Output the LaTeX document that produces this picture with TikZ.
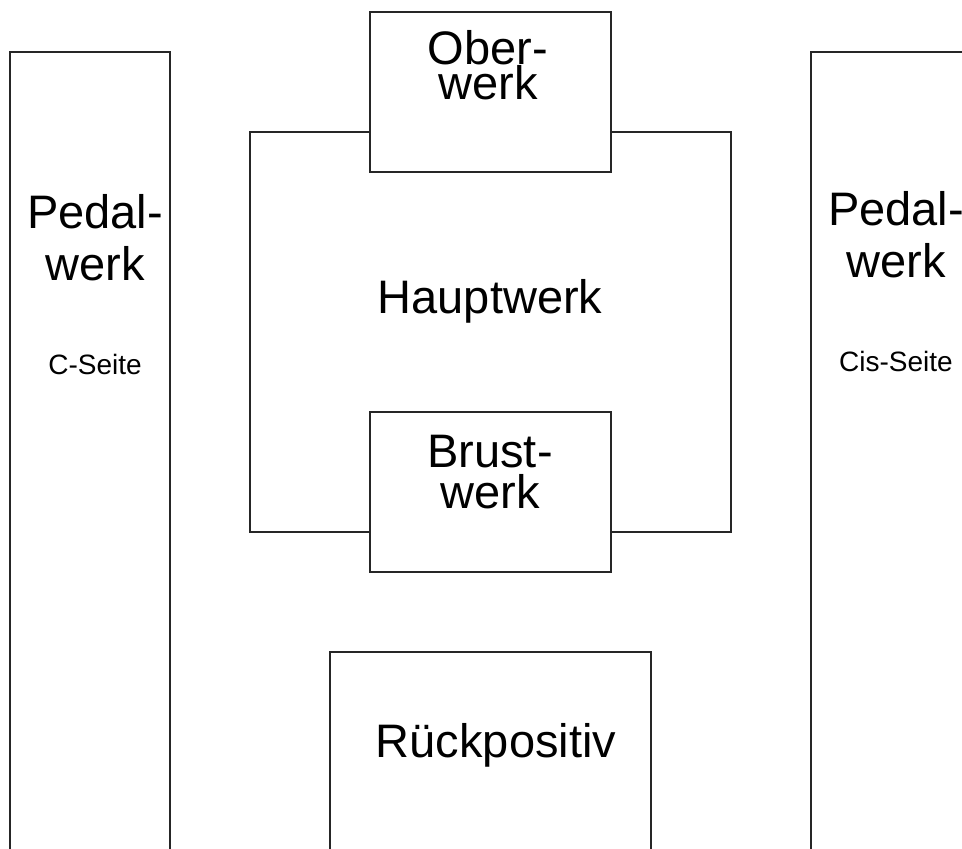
\documentclass[tikz,border=0pt]{standalone}
\usepackage{fontspec}
\setmainfont{Liberation Sans}

\begin{document}
\begin{tikzpicture}[x=1pt,y=-1pt,
    werkbox/.style={draw=black!85, line width=1.6pt, fill=white, inner sep=0pt},
    bigtext/.style={font=\fontsize{47}{52}\selectfont, anchor=base, align=center, inner sep=0pt},
    smalltext/.style={font=\fontsize{28}{32}\selectfont, anchor=base, inner sep=0pt}]
        % Frame of the picture
        \useasboundingbox (0,0) rectangle (962,849);
        \clip (0,0) rectangle (962,849);

        % Pedal towers
        \node[werkbox, minimum width=160pt, minimum height=828pt] (PedC) at (90,466) {};
        \node[werkbox, minimum width=160pt, minimum height=828pt] (PedCis) at (891,466) {};

        % Hauptwerk with Oberwerk and Brustwerk on top of it
        \node[werkbox, minimum width=481pt, minimum height=400pt] (HW) at (490.5,332) {};
        \node[werkbox, minimum width=241pt, minimum height=160pt] (OW) at (490.5,92) {};
        \node[werkbox, minimum width=241pt, minimum height=160pt] (BW) at (490.5,492) {};

        % Rueckpositiv
        \node[werkbox, minimum width=321pt, minimum height=248pt] (RP) at (490.5,776) {};

        % Labels (base = baseline of the last line)
        \node[bigtext] (PedCtxt) at (95,280) {Pedal-\\werk};
        \node[smalltext] (PedCside) at (95,374) {C-Seite};
        \node[bigtext] (PedCistxt) at (896,277) {Pedal-\\werk};
        \node[smalltext] (PedCisside) at (896,371) {Cis-Seite};
        \node[bigtext] (HWtxt) at (490,313) {Hauptwerk};
        \node[bigtext, font=\fontsize{47}{35}\selectfont] (OWtxt) at (488,99) {Ober-\\werk};
        \node[bigtext, font=\fontsize{47}{41}\selectfont] (BWtxt) at (490,508) {Brust-\\werk};
        \node[bigtext] (RPtxt) at (496,757) {Rückpositiv};
    \end{tikzpicture}
\end{document}
